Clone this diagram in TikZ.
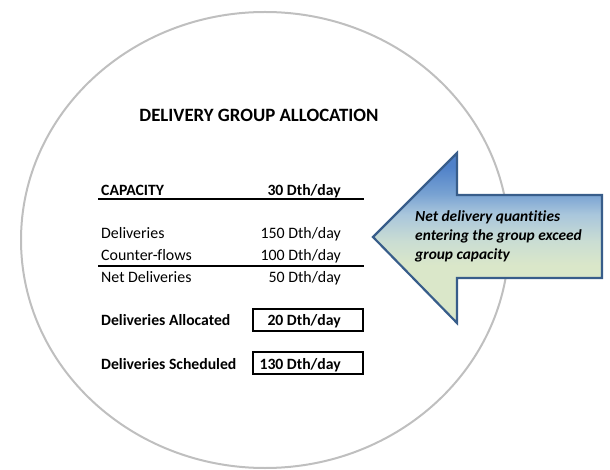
\documentclass[tikz,border=0pt]{standalone}
\usepackage{fontspec}
\setmainfont{Carlito}[Ligatures={NoCommon}]
\definecolor{circgray}{HTML}{BFBFBF}
\definecolor{arrline}{HTML}{385D8A}
\definecolor{agreen}{HTML}{DAE7C9}
\definecolor{amid}{HTML}{CADDD3}
\definecolor{alblue}{HTML}{A9C6DC}
\definecolor{ablue2}{HTML}{78A2D2}
\definecolor{ablue}{HTML}{4F81C9}
\definecolor{atip}{HTML}{3A8A62}
\pgfdeclareverticalshading{arrowshade}{100bp}{color(0bp)=(agreen); color(42bp)=(agreen); color(49bp)=(amid); color(57bp)=(alblue); color(63bp)=(ablue2); color(71bp)=(ablue); color(74bp)=(ablue); color(75bp)=(atip); color(100bp)=(atip)}
\begin{document}
\begin{tikzpicture}[x=1pt,y=-1pt,
  lab/.style={inner sep=0pt, font=\fontsize{15.9}{20}\selectfont},
  blab/.style={lab, font=\fontsize{15.7}{20}\selectfont\bfseries},
  ttl/.style={inner sep=0pt, font=\fontsize{18.8}{22}\selectfont\bfseries},
  atext/.style={inner sep=0pt, anchor=base west, font=\fontsize{15.4}{19}\selectfont\bfseries\itshape},
  circ/.style={draw=circgray, line width=2pt},
  bigarrow/.style={shading=arrowshade, draw=arrline, line width=2.2pt, line join=miter},
  valbox/.style={draw=black, line width=1.2pt}]
\useasboundingbox (0,0) rectangle (610,470);
\draw[circ] (265,240) ellipse [x radius=244pt, y radius=228pt];

\node[ttl, anchor=base] (title) at (259,122) {DELIVERY GROUP ALLOCATION};

\node[blab, anchor=base west] (cap) at (101,195.5) {CAPACITY};
\node[blab, anchor=base east] (capv) at (341,195.5) {30 Dth/day};
\draw[line width=2pt] (98,199) -- (364,199);

\node[lab, anchor=base west] (del) at (101,238.5) {Deliveries};
\node[lab, anchor=base east] (delv) at (341,238.5) {150 Dth/day};
\node[lab, anchor=base west] (cf) at (101,260.5) {Counter-flows};
\node[lab, anchor=base east] (cfv) at (341,260.5) {100 Dth/day};
\draw[line width=1.2pt] (98,266) -- (364,266);
\node[lab, anchor=base west] (net) at (101,282.5) {Net Deliveries};
\node[lab, anchor=base east] (netv) at (341,282.5) {50 Dth/day};

\draw[valbox] (253,309) rectangle (363,331);
\node[blab, anchor=base west] (alloc) at (101,325.8) {Deliveries Allocated};
\node[blab, anchor=base east] (allocv) at (341,325.8) {20 Dth/day};

\draw[valbox] (253,352) rectangle (363,374);
\node[blab, anchor=base west] (sched) at (101,369) {Deliveries Scheduled};
\node[blab, anchor=base east] (schedv) at (341,369) {130 Dth/day};

\path[bigarrow] (373,237) -- (457,153) -- (457,195) -- (602,195) -- (602,278) -- (457,278) -- (457,323) -- cycle;
\node[atext] (a1) at (415,222) {Net delivery quantities};
\node[atext] (a2) at (415,241) {entering the group exceed};
\node[atext] (a3) at (415,260) {group capacity};
\end{tikzpicture}
\end{document}
